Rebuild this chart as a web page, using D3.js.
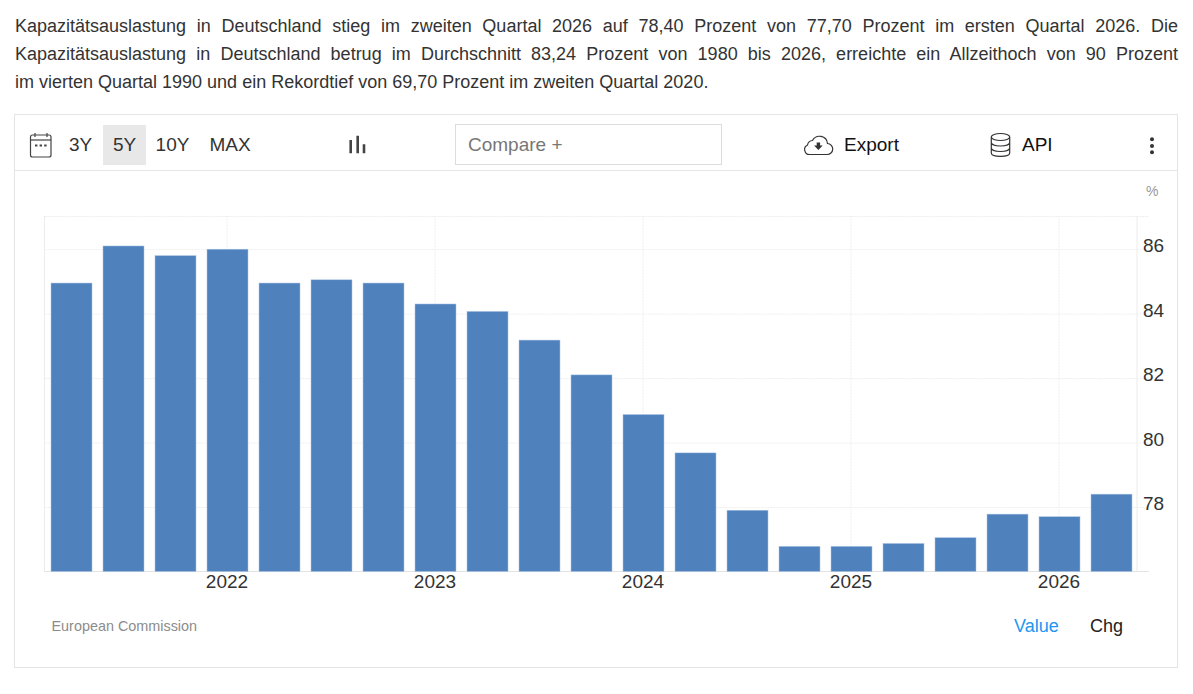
<!DOCTYPE html>
<html lang="de">
<head>
<meta charset="utf-8">
<title>Kapazitätsauslastung in Deutschland</title>
<script src="https://cdn.jsdelivr.net/npm/d3@7"></script>
<style>
  html, body { margin: 0; padding: 0; background: #fff; }
  body { width: 1193px; height: 694px; position: relative; overflow: hidden; font-family: "Liberation Sans", Arial, sans-serif; }
  #intro { position: absolute; left: 15px; top: 12px; width: 1163px; margin: 0; font-size: 18px; line-height: 28px; color: #333; }
  #intro span { display: block; white-space: nowrap; }
  #intro span.full { white-space: normal; text-align: justify; text-align-last: justify; }
  svg { position: absolute; left: 0; top: 0; }
  text { font-family: "Liberation Sans", Arial, sans-serif; }
  .axis .domain { display: none; }
  .axis .tick line { stroke: #eeeeee; stroke-dasharray: 2 1; }
  .axis .tick text { font-size: 19px; fill: #333; }
</style>
</head>
<body>
<p id="intro"><span class="full">Kapazitätsauslastung in Deutschland stieg im zweiten Quartal 2026 auf 78,40 Prozent von 77,70 Prozent im ersten Quartal 2026. Die</span><span class="full">Kapazitätsauslastung in Deutschland betrug im Durchschnitt 83,24 Prozent von 1980 bis 2026, erreichte ein Allzeithoch von 90 Prozent</span><span>im vierten Quartal 1990 und ein Rekordtief von 69,70 Prozent im zweiten Quartal 2020.</span></p>
<div id="chart"></div>
<script>
// Input data
const quarters = [
  "2021Q2", "2021Q3", "2021Q4",
  "2022Q1", "2022Q2", "2022Q3", "2022Q4",
  "2023Q1", "2023Q2", "2023Q3", "2023Q4",
  "2024Q1", "2024Q2", "2024Q3", "2024Q4",
  "2025Q1", "2025Q2", "2025Q3", "2025Q4",
  "2026Q1", "2026Q2"
];
const values = [
  84.95, 86.1, 85.8,
  86.0, 84.95, 85.05, 84.95,
  84.3, 84.07, 83.18, 82.1,
  80.87, 79.68, 77.9, 76.78,
  76.78, 76.87, 77.05, 77.78,
  77.7, 78.4
];
const yTicks = [78, 80, 82, 84, 86];
const xTickQuarters = ["2022Q1", "2023Q1", "2024Q1", "2025Q1", "2026Q1"];
const rangeButtons = ["3Y", "5Y", "10Y", "MAX"];

const width = 1193;
const height = 694;
const plot = { left: 44.5, right: 1137, end: 1149, top: 216, bottom: 571.5 };

const svg = d3.select("#chart").append("svg").attr("width", width).attr("height", height);

// Card and toolbar divider
svg.append("rect")
  .attr("x", 14.5).attr("y", 114.5).attr("width", 1163).attr("height", 553)
  .attr("fill", "none").attr("stroke", "#e4e4e4");
svg.append("line")
  .attr("x1", 15).attr("x2", 1177).attr("y1", 170.5).attr("y2", 170.5)
  .attr("stroke", "#e6e6e6");

// Scales
const x = d3.scaleBand().domain(quarters).range([51, 1132]).paddingInner(0.2115);
const y = d3.scaleLinear().domain([76, 87.03]).range([plot.bottom, plot.top]);

// Plot frame
const frame = svg.append("g").attr("stroke", "#ececec").attr("fill", "none");
frame.append("line").attr("x1", plot.left).attr("x2", plot.left).attr("y1", plot.top).attr("y2", plot.bottom);
frame.append("line").attr("x1", plot.right).attr("x2", plot.right).attr("y1", plot.top).attr("y2", plot.bottom);
frame.append("line").attr("x1", plot.left).attr("x2", plot.end).attr("y1", plot.top + 0.5).attr("y2", plot.top + 0.5).attr("stroke-dasharray", "2 1");
frame.append("line").attr("x1", plot.left).attr("x2", plot.end).attr("y1", plot.bottom).attr("y2", plot.bottom).attr("stroke", "#e4e4e4");

// x axis: year label at each first quarter
const xAxis = d3.axisBottom(x)
  .tickValues(xTickQuarters)
  .tickSize(-(plot.bottom - plot.top))
  .tickPadding(3)
  .tickFormat(d => d.slice(0, 4));
svg.append("g")
  .attr("class", "axis x-axis")
  .attr("transform", `translate(-0.5, ${plot.bottom})`)
  .call(xAxis);

// y axis on the right, labels sit slightly below their grid line
const yAxis = d3.axisRight(y)
  .tickValues(yTicks)
  .tickSize(0)
  .tickPadding(6);
const yAxisG = svg.append("g")
  .attr("class", "axis y-axis")
  .attr("transform", `translate(${plot.right}, 0)`)
  .call(yAxis);
yAxisG.selectAll(".tick text").attr("dy", "0.14em");
yAxisG.selectAll(".tick line")
  .attr("x1", plot.left - plot.right)
  .attr("x2", plot.end - plot.right);

// Bars
svg.append("g")
  .selectAll("rect")
  .data(values)
  .enter()
  .append("rect")
  .attr("x", (d, i) => x(quarters[i]))
  .attr("y", d => y(d))
  .attr("width", x.bandwidth())
  .attr("height", d => plot.bottom - y(d))
  .attr("fill", "#4f81bd")
  .attr("stroke", "#a9c4e6")
  .attr("stroke-width", 0.5);

// Unit, source and the value/change switch
svg.append("text").attr("x", 1146).attr("y", 196).attr("font-size", 14).attr("fill", "#999").text("%");
svg.append("text").attr("x", 51.5).attr("y", 631).attr("font-size", 14.4).attr("fill", "#8c8c8c").text("European Commission");
svg.append("text").attr("x", 1014).attr("y", 632).attr("font-size", 18).attr("fill", "#2196f3").text("Value");
svg.append("text").attr("x", 1090).attr("y", 632).attr("font-size", 18).attr("fill", "#222").text("Chg");

// Toolbar
const toolbar = svg.append("g");
toolbar.append("rect").attr("x", 103).attr("y", 125).attr("width", 43).attr("height", 40).attr("fill", "#e8e8e8");
const buttonX = [80.5, 124.5, 172.5, 230];
toolbar.selectAll(".range")
  .data(rangeButtons)
  .enter()
  .append("text")
  .attr("class", "range")
  .attr("x", (d, i) => buttonX[i])
  .attr("y", 151)
  .attr("text-anchor", "middle")
  .attr("font-size", 19)
  .attr("fill", "#333")
  .text(d => d);

// Calendar icon
const cal = toolbar.append("g").attr("fill", "none").attr("stroke", "#444").attr("stroke-width", 1.2);
cal.append("rect").attr("x", 30.5).attr("y", 135).attr("width", 20.5).attr("height", 22).attr("rx", 2);
cal.append("line").attr("x1", 30.5).attr("x2", 51).attr("y1", 140).attr("y2", 140);
cal.append("line").attr("x1", 35).attr("x2", 35).attr("y1", 133).attr("y2", 137);
cal.append("line").attr("x1", 47).attr("x2", 47).attr("y1", 133).attr("y2", 137);
cal.append("path").attr("d", "M35 145.5h2.4M39.6 145.5h2.4M44.2 145.5h2.4").attr("stroke-width", 2);

// Chart type icon
toolbar.append("path")
  .attr("d", "M350.7 140v13.3M357.7 135.7v17.6M364 144.3v9")
  .attr("stroke", "#444").attr("stroke-width", 2.6).attr("fill", "none");

// Compare box
toolbar.append("rect").attr("x", 455.5).attr("y", 124.5).attr("width", 266).attr("height", 40)
  .attr("fill", "#fff").attr("stroke", "#dcdcdc");
toolbar.append("text").attr("x", 468).attr("y", 151).attr("font-size", 19).attr("fill", "#777").text("Compare +");

// Export with cloud icon
toolbar.append("path")
  .attr("d", "M810 154.5h17a5.5 5.5 0 0 0 .5-11a8 8 0 0 0-15-3a5.5 5.5 0 0 0-5 4.5a5 5 0 0 0 2.5 9.5z")
  .attr("fill", "none").attr("stroke", "#333").attr("stroke-width", 1.2);
toolbar.append("path").attr("d", "M816.7 142.5h3.4v3h2.6l-4.3 4.5-4.3-4.5h2.6z").attr("fill", "#333");
toolbar.append("text").attr("x", 844).attr("y", 151).attr("font-size", 19).attr("fill", "#111").text("Export");

// API with database icon
const db = toolbar.append("g").attr("fill", "none").attr("stroke", "#333").attr("stroke-width", 1.2);
db.append("ellipse").attr("cx", 1000.5).attr("cy", 137).attr("rx", 9.2).attr("ry", 3.5);
db.append("path").attr("d", "M991.3 137v16c0 2 4 3.3 9.2 3.3s9.2-1.3 9.2-3.3v-16M991.3 142.5c0 2 4 3.5 9.2 3.5s9.2-1.5 9.2-3.5M991.3 148c0 2 4 3.5 9.2 3.5s9.2-1.5 9.2-3.5");
toolbar.append("text").attr("x", 1022).attr("y", 151).attr("font-size", 19).attr("fill", "#111").text("API");

// Overflow menu dots
toolbar.selectAll(".dot")
  .data([139.3, 146, 152.3])
  .enter()
  .append("circle")
  .attr("class", "dot")
  .attr("cx", 1152)
  .attr("cy", d => d)
  .attr("r", 2)
  .attr("fill", "#333");
</script>
</body>
</html>
